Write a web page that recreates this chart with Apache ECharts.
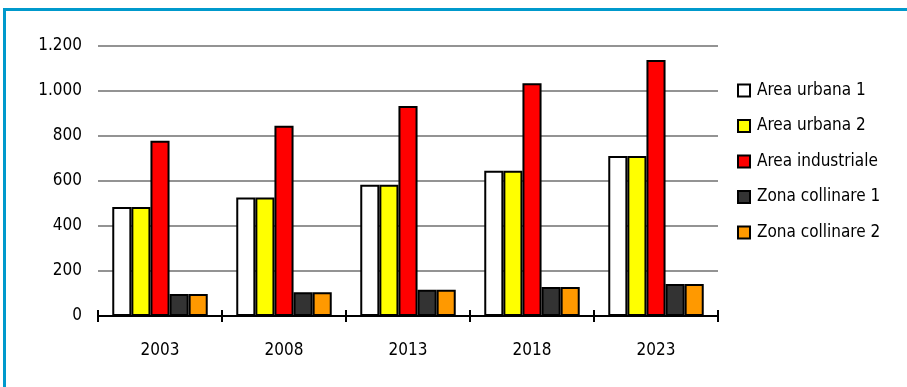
<!DOCTYPE html>
<html>
<head>
<meta charset="utf-8">
<script src="https://cdn.jsdelivr.net/npm/echarts@6/dist/echarts.min.js"></script>
<style>
    html, body {margin: 0; padding: 0; background: #fff;}
    #chart {width: 907px; height: 387px;}
</style>
</head>
<body>
<div id="chart"></div>
<script>
const years = ['2003', '2008', '2013', '2018', '2023'];
const areaUrbana1 = [483, 526, 582, 644, 710];
const areaUrbana2 = [483, 526, 582, 644, 710];
const areaIndustriale = [778, 844, 932, 1033, 1136];
const zonaCollinare1 = [98, 105, 116, 129, 142];
const zonaCollinare2 = [98, 105, 116, 129, 142];

// no Arial Narrow here, condensed DejaVu is the closest match
const font = '"Liberation Sans Narrow", "DejaVu Sans Condensed", "Liberation Sans", sans-serif';

const seriesDefs = [
    {name: 'Area urbana 1', color: '#ffffff', data: areaUrbana1},
    {name: 'Area urbana 2', color: '#ffff00', data: areaUrbana2},
    {name: 'Area industriale', color: '#ff0000', data: areaIndustriale},
    {name: 'Zona collinare 1', color: '#333333', data: zonaCollinare1},
    {name: 'Zona collinare 2', color: '#ff9900', data: zonaCollinare2},
];

const fmtIt = v => String(v).replace(/\B(?=(\d{3})+(?!\d))/g, '.');

const chart = echarts.init(document.getElementById('chart'), null, {renderer: 'canvas'});
const axisCommon = {
    type: 'category',
    data: years,
    axisLine: {lineStyle: {color: '#000', width: 2}},
    axisTick: {show: true, alignWithLabel: false, length: 6, lineStyle: {color: '#000', width: 2}},
};
chart.setOption({
    animation: false,
    textStyle: {fontFamily: font},
    graphic: [{
        type: 'rect',
        shape: {x: 4.5, y: 9.5, width: 1000, height: 500},
        style: {fill: 'none', stroke: '#0099cc', lineWidth: 3},
        silent: true,
    }],
    grid: {left: 98, right: 189, top: 45.5, bottom: 71},
    legend: {
        orient: 'vertical',
        left: 737,
        top: 82,
        padding: 0,
        itemWidth: 12,
        itemHeight: 12,
        itemGap: 18.5,
        icon: 'rect',
        itemStyle: {borderColor: '#000', borderWidth: 2},
        textStyle: {fontFamily: font, fontSize: 17, color: '#000', lineHeight: 16, padding: [0, 0, 0, 2]},
        data: seriesDefs.map(s => s.name),
    },
    xAxis: [{
        ...axisCommon,
        axisLabel: {fontFamily: font, fontSize: 17, color: '#000', margin: 26},
    }, {
        // second copy only to draw the upper half of the crossing ticks
        ...axisCommon,
        position: 'bottom',
        axisTick: {...axisCommon.axisTick, inside: true},
        axisLabel: {show: false},
    }],
    yAxis: {
        type: 'value',
        min: 0,
        max: 1200,
        interval: 200,
        axisLine: {show: false},
        axisTick: {show: false},
        splitLine: {lineStyle: {color: '#939393', width: 2}},
        axisLabel: {fontFamily: font, fontSize: 17, color: '#000', margin: 16, formatter: fmtIt},
    },
    series: seriesDefs.map(s => ({
        type: 'bar',
        name: s.name,
        data: s.data,
        barGap: '0%',
        barCategoryGap: '23%',
        itemStyle: {color: s.color, borderColor: '#000', borderWidth: 2},
    })),
});
</script>
</body>
</html>
